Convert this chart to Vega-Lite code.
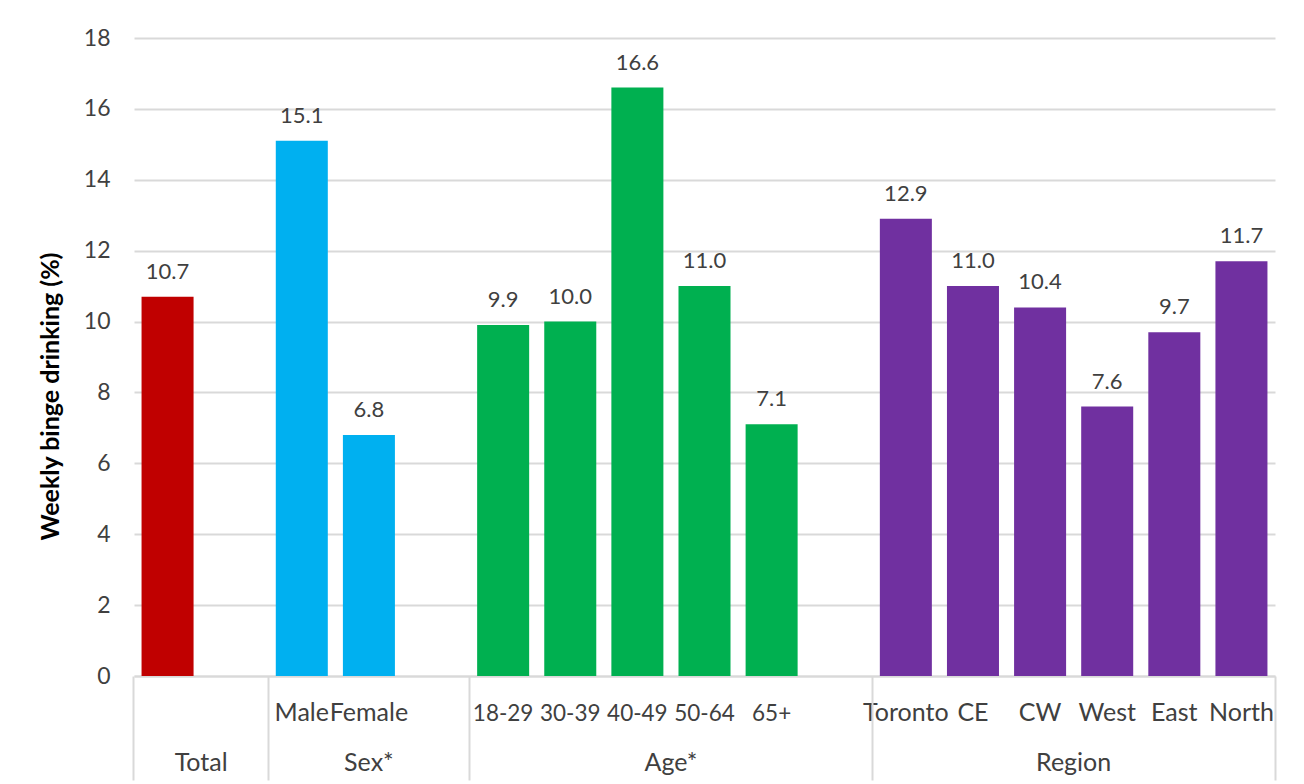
{
  "$schema": "https://vega.github.io/schema/vega-lite/v6.json",
  "width": 1141,
  "height": 638,
  "autosize": {"type": "none"},
  "padding": {"left": 134, "top": 38, "right": 29, "bottom": 108},
  "background": "white",
  "config": {"font": "Lato", "view": {"stroke": null}},
  "data": {
    "values": [
      {"cat": "Total", "group": "Total", "value": 10.7},
      {"cat": "Male", "group": "Sex", "value": 15.1},
      {"cat": "Female", "group": "Sex", "value": 6.8},
      {"cat": "18-29", "group": "Age", "value": 9.9},
      {"cat": "30-39", "group": "Age", "value": 10.0},
      {"cat": "40-49", "group": "Age", "value": 16.6},
      {"cat": "50-64", "group": "Age", "value": 11.0},
      {"cat": "65+", "group": "Age", "value": 7.1},
      {"cat": "Toronto", "group": "Region", "value": 12.9},
      {"cat": "CE", "group": "Region", "value": 11.0},
      {"cat": "CW", "group": "Region", "value": 10.4},
      {"cat": "West", "group": "Region", "value": 7.6},
      {"cat": "East", "group": "Region", "value": 9.7},
      {"cat": "North", "group": "Region", "value": 11.7}
    ]
  },
  "resolve": {"axis": {"x": "independent"}},
  "layer": [
    {
      "mark": {"type": "bar"},
      "encoding": {
        "x": {
          "field": "cat", "type": "nominal", "sort": null,
          "scale": {"domain": ["Total", " ", "Male", "Female", "  ", "18-29", "30-39", "40-49", "50-64", "65+", "   ", "Toronto", "CE", "CW", "West", "East", "North"], "paddingInner": 0.225, "paddingOuter": 0.1125},
          "axis": {"title": null, "orient": "bottom", "ticks": false, "grid": false, "domain": true, "domainColor": "#d9d9d9", "domainWidth": 2, "labelAngle": 0, "labelExpr": "datum.value === 'Total' ? '' : datum.label", "labelFont": "Lato", "labelFontSize": {"condition": {"test": "indexof(['18-29', '30-39', '40-49', '50-64', '65+'], datum.value) >= 0", "value": 22.5}, "value": 25}, "labelColor": "#404040", "labelBaseline": "alphabetic", "labelPadding": 44, "labelOverlap": false}
        },
        "y": {
          "field": "value", "type": "quantitative",
          "scale": {"domain": [0, 18], "nice": false},
          "axis": {"title": "Weekly binge drinking (%)", "values": [0, 2, 4, 6, 8, 10, 12, 14, 16, 18], "grid": true, "gridColor": "#d9d9d9", "gridWidth": 2, "domain": false, "ticks": false, "labelPadding": 24, "labelFont": "Lato", "labelFontSize": 23, "labelColor": "#404040", "titleFont": "Lato", "titleFontSize": 25, "titleFontWeight": "bold", "titleColor": "#000000", "titlePadding": 20, "titleY": 358}
        },
        "color": {
          "field": "group", "type": "nominal",
          "scale": {"domain": ["Total", "Sex", "Age", "Region"], "range": ["#C00000", "#00B0F0", "#00B050", "#7030A0"]},
          "legend": null
        }
      }
    },
    {
      "mark": {"type": "text", "baseline": "alphabetic", "dy": -18, "fontSize": 22, "color": "#404040", "font": "Lato"},
      "encoding": {
        "x": {
          "field": "cat", "type": "nominal", "sort": null,
          "scale": {"domain": ["Total", " ", "Male", "Female", "  ", "18-29", "30-39", "40-49", "50-64", "65+", "   ", "Toronto", "CE", "CW", "West", "East", "North"], "paddingInner": 0.225, "paddingOuter": 0.1125},
          "axis": {"title": null, "orient": "bottom", "labels": false, "domain": false, "grid": false, "ticks": true, "tickSize": 104, "tickWidth": 2, "tickColor": "#d9d9d9", "bandPosition": -0.1452, "values": ["Total", "Male", "18-29", "Toronto"]}
        },
        "y": {"field": "value", "type": "quantitative"},
        "text": {"field": "value", "type": "quantitative", "format": ".1f"}
      }
    },
    {
      "mark": {"type": "text", "text": ""},
      "encoding": {
        "x": {
          "field": "cat", "type": "nominal", "sort": null,
          "scale": {"domain": ["Total", " ", "Male", "Female", "  ", "18-29", "30-39", "40-49", "50-64", "65+", "   ", "Toronto", "CE", "CW", "West", "East", "North"], "paddingInner": 0.225, "paddingOuter": 0.1125},
          "axis": {"title": null, "orient": "bottom", "domain": false, "grid": false, "ticks": true, "tickSize": 104, "tickWidth": 2, "tickColor": "#d9d9d9", "tickOpacity": {"condition": {"test": "datum.value === 'North'", "value": 1}, "value": 0}, "bandPosition": 1.1452, "values": ["Total", "40-49", "CW", "North"], "labelExpr": "datum.value === 'Total' ? 'Total' : datum.value === '40-49' ? 'Age*' : datum.value === 'CW' ? 'Region' : ''", "labelOffset": {"expr": "width / 34"}, "labelPadding": -10, "labelBaseline": "alphabetic", "labelAngle": 0, "labelFont": "Lato", "labelFontSize": 25, "labelColor": "#404040", "labelOverlap": false}
        }
      }
    },
    {
      "mark": {"type": "text", "text": ""},
      "encoding": {
        "x": {
          "field": "cat", "type": "nominal", "sort": null,
          "scale": {"domain": ["Total", " ", "Male", "Female", "  ", "18-29", "30-39", "40-49", "50-64", "65+", "   ", "Toronto", "CE", "CW", "West", "East", "North"], "paddingInner": 0.225, "paddingOuter": 0.1125},
          "axis": {"title": null, "orient": "bottom", "domain": false, "grid": false, "ticks": false, "bandPosition": 0.5, "values": ["Female"], "labelExpr": "'Sex*'", "labelPadding": 94, "labelBaseline": "alphabetic", "labelAngle": 0, "labelFont": "Lato", "labelFontSize": 25, "labelColor": "#404040", "labelOverlap": false}
        }
      }
    }
  ]
}
